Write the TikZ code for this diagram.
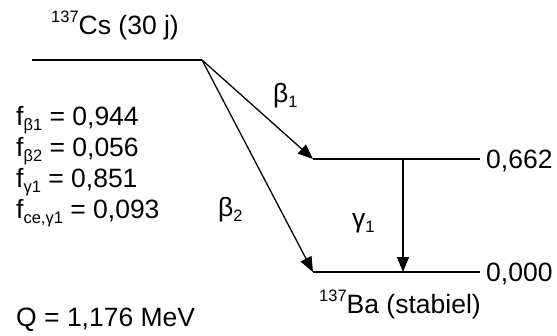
\documentclass[tikz,border=0pt]{standalone}
\usepackage{fontspec}
\setmainfont{Liberation Sans}
\usetikzlibrary{arrows.meta}
\newcommand{\lo}[1]{\raisebox{-0.22em}{\fontsize{16.5}{18}\selectfont #1}}
\newcommand{\hi}[1]{\raisebox{0.42em}{\fontsize{16.5}{18}\selectfont #1}}
\tikzset{
  lbl/.style={inner sep=0pt, anchor=base west, font=\fontsize{26.5}{30}\selectfont},
  level/.style={line width=1.6pt},
  trans/.style={line width=1.3pt, -{Triangle[length=15pt,width=12pt]}}
}
\begin{document}
\begin{tikzpicture}[x=1pt,y=-1pt]
\useasboundingbox (0,0) rectangle (557,335);
% levels
\coordinate (csL) at (32,60);
\coordinate (csR) at (202,60);
\coordinate (e1L) at (313,159);
\coordinate (e1R) at (480,159);
\coordinate (e0L) at (313,272);
\coordinate (e0R) at (480,272);
\coordinate (gtop) at (403,159);
\coordinate (gbot) at (403,272);
\draw[level] (csL) -- (csR);
\draw[level] (e1L) -- (e1R);
\draw[level] (e0L) -- (e0R);
% transitions
\draw[trans] (csR) -- (e1L);
\draw[trans] (csR) -- (e0L);
\draw[trans] (gtop) -- (gbot);
% labels
\node[lbl] (cs) at (51,34) {\hi{137}Cs (30 j)};
\node[lbl] (ba) at (319,313) {\hi{137}Ba (stabiel)};
\node[lbl] (l1) at (486,168) {0,662};
\node[lbl] (l0) at (486,281) {0,000};
\node[lbl] (b1) at (273,102) {β\lo{1}};
\node[lbl] (b2) at (218,216) {β\lo{2}};
\node[lbl] (g1) at (352,227) {γ\lo{1}};
\node[lbl] (f1) at (16,125) {f\lo{β1} = 0,944};
\node[lbl] (f2) at (16,156) {f\lo{β2} = 0,056};
\node[lbl] (f3) at (16,187) {f\lo{γ1} = 0,851};
\node[lbl] (f4) at (16,218) {f\lo{ce,γ1} = 0,093};
\node[lbl] (q) at (16,326) {Q = 1,176 MeV};
\end{tikzpicture}
\end{document}
